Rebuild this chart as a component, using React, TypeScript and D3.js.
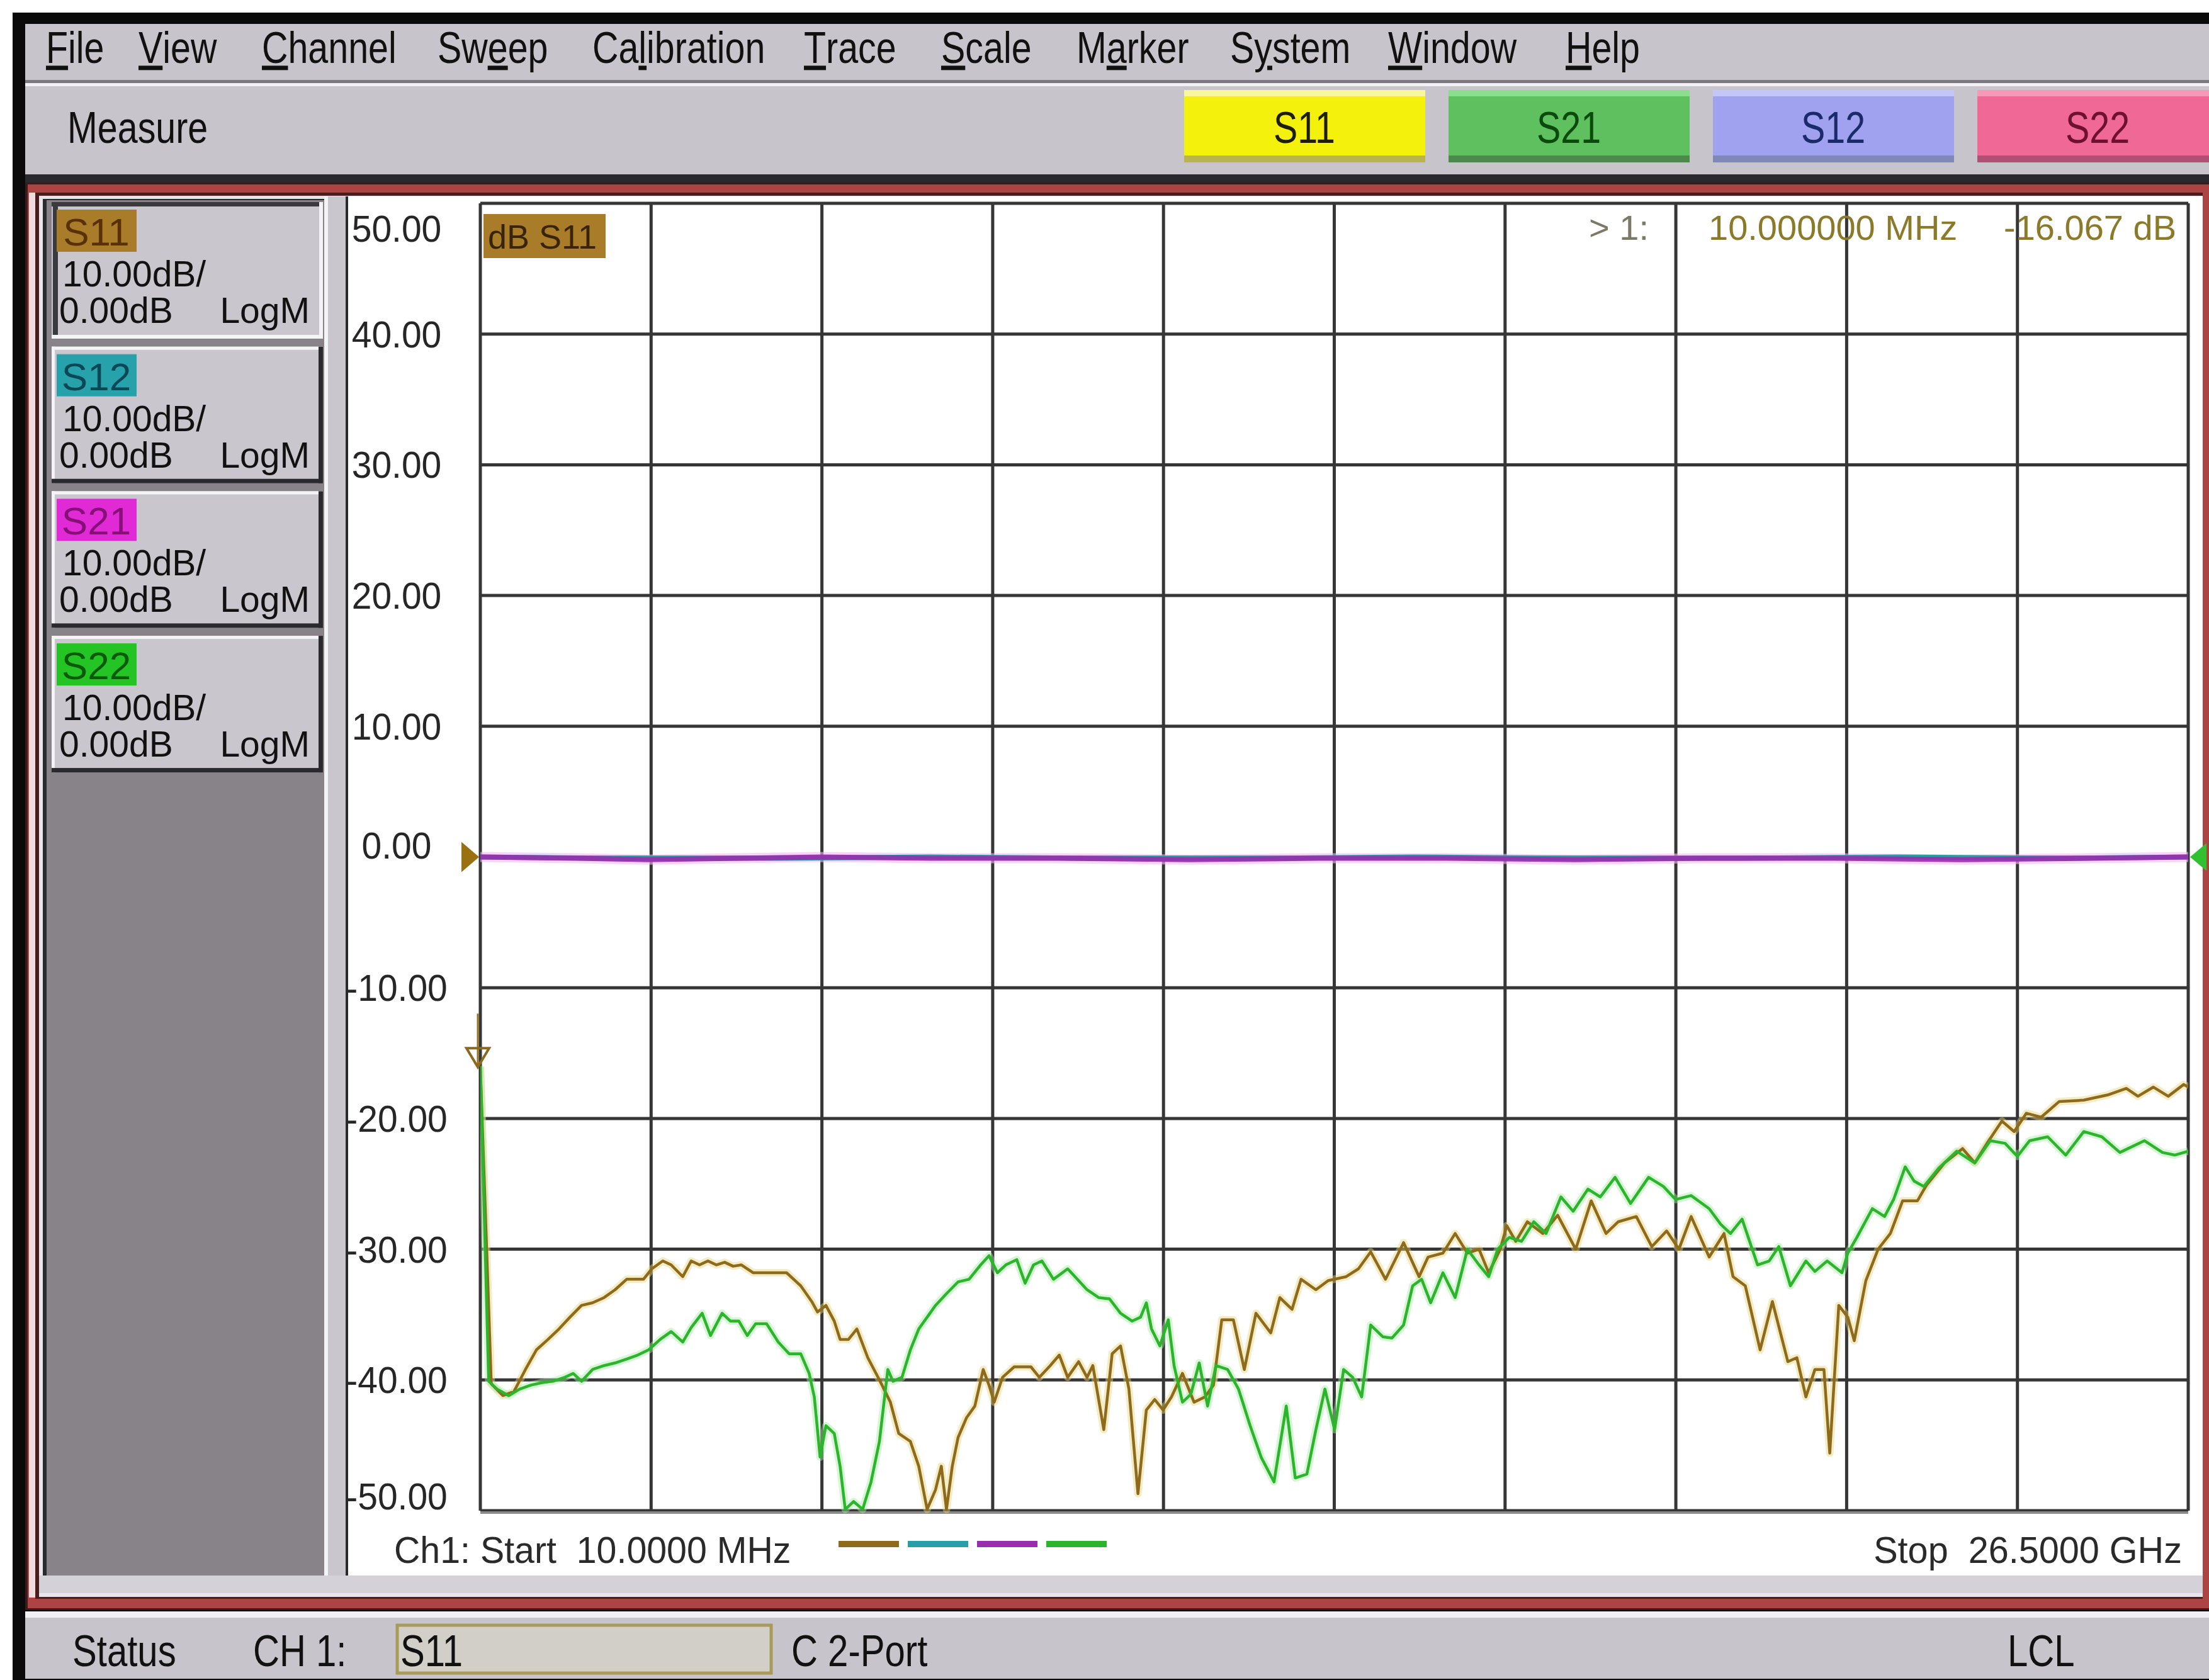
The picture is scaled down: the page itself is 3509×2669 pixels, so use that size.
import React from 'react';
import * as d3 from 'd3';

// ---------- data ----------
const FREQ_START_GHZ = 0.01;
const FREQ_STOP_GHZ = 26.5;
const Y_MIN = -50;
const Y_MAX = 50;
const Y_TICKS = [50, 40, 30, 20, 10, 0, -10, -20, -30, -40, -50];

const MENU_ITEMS = ['File', 'View', 'Channel', 'Sweep', 'Calibration', 'Trace', 'Scale', 'Marker', 'System', 'Window', 'Help'];
const MENU_UNDERLINE = [0, 0, 0, 2, 2, 0, 0, 1, 1, 0, 0];
const MEAS_BUTTONS = ['S11', 'S21', 'S12', 'S22'];
const TRACE_NAMES = ['S11', 'S12', 'S21', 'S22'];
const TRACE_SCALE = '10.00dB/';
const TRACE_REF = '0.00dB';
const TRACE_FORMAT = 'LogM';
const MARKER_TEXT = ['> 1:', '10.000000 MHz', '-16.067 dB'];

// [frequency GHz, dB]
const S11: [number, number][] = [
  [0.01, -16.07], [0.18, -40.3], [0.36, -41.2], [0.53, -40.9], [0.71, -39.2], [0.88, -37.7], [1.06, -36.9], [1.23, -36.1],
  [1.40, -35.2], [1.58, -34.3], [1.75, -34.1], [1.93, -33.7], [2.10, -33.1], [2.28, -32.3], [2.54, -32.3], [2.67, -31.5],
  [2.84, -30.9], [2.97, -31.2], [3.15, -32.1], [3.28, -30.9], [3.41, -31.2], [3.54, -30.9], [3.67, -31.2], [3.80, -31.0],
  [3.93, -31.3], [4.06, -31.2], [4.24, -31.8], [4.54, -31.8], [4.76, -31.8], [4.98, -32.8], [5.15, -34.0], [5.24, -34.8],
  [5.37, -34.3], [5.50, -35.5], [5.59, -36.9], [5.72, -36.9], [5.85, -36.1], [6.02, -38.3], [6.20, -40.0], [6.37, -41.7],
  [6.50, -44.1], [6.68, -44.7], [6.81, -46.6], [6.94, -49.9], [7.07, -48.4], [7.16, -46.6], [7.24, -49.9], [7.33, -46.6],
  [7.42, -44.4], [7.55, -42.9], [7.68, -42.0], [7.81, -39.2], [7.90, -40.4], [7.98, -41.7], [8.11, -39.8], [8.29, -39.0],
  [8.55, -39.0], [8.68, -39.8], [8.85, -38.9], [8.99, -38.1], [9.12, -39.8], [9.29, -38.6], [9.42, -39.8], [9.51, -38.9],
  [9.68, -43.8], [9.81, -38.0], [9.94, -37.4], [10.07, -40.7], [10.21, -48.7], [10.34, -42.3], [10.47, -41.5], [10.60, -42.3],
  [10.73, -41.3], [10.90, -39.5], [11.08, -41.7], [11.25, -41.3], [11.38, -40.4], [11.51, -35.4], [11.69, -35.4], [11.86, -39.2],
  [12.04, -34.9], [12.27, -36.4], [12.41, -33.7], [12.60, -34.6], [12.74, -32.3], [12.97, -33.1], [13.16, -32.4], [13.44, -32.1],
  [13.63, -31.5], [13.82, -30.2], [14.05, -32.3], [14.33, -29.5], [14.57, -32.1], [14.71, -30.6], [14.94, -30.3], [15.13, -28.8],
  [15.32, -30.3], [15.50, -30.0], [15.65, -31.8], [15.83, -30.0], [15.93, -28.2], [16.07, -29.4], [16.25, -27.9], [16.49, -28.8],
  [16.72, -27.4], [17.00, -30.0], [17.24, -26.3], [17.47, -28.8], [17.66, -27.9], [17.94, -27.5], [18.18, -29.8], [18.41, -28.6],
  [18.60, -30.0], [18.79, -27.5], [19.07, -30.6], [19.30, -28.8], [19.44, -32.1], [19.63, -32.8], [19.86, -37.7], [20.05, -34.0],
  [20.29, -38.6], [20.43, -38.3], [20.57, -41.3], [20.71, -39.2], [20.85, -39.2], [20.94, -45.6], [21.08, -34.3], [21.22, -35.2],
  [21.32, -37.0], [21.50, -32.4], [21.69, -30.0], [21.88, -28.8], [22.07, -26.3], [22.30, -26.3], [22.44, -25.1], [22.72, -23.4],
  [23.00, -22.3], [23.19, -23.4], [23.38, -21.9], [23.61, -20.2], [23.80, -21.0], [23.99, -19.6], [24.22, -19.9], [24.50, -18.7],
  [24.88, -18.6], [25.25, -18.2], [25.54, -17.7], [25.72, -18.3], [25.96, -17.6], [26.19, -18.3], [26.43, -17.4], [26.50, -17.6],
];

const S22: [number, number][] = [
  [0.01, -16.0], [0.14, -40.1], [0.27, -40.7], [0.45, -41.2], [0.62, -40.7], [0.79, -40.4], [0.97, -40.2], [1.14, -40.1],
  [1.32, -39.8], [1.45, -39.5], [1.58, -40.1], [1.75, -39.2], [1.93, -38.9], [2.10, -38.7], [2.28, -38.4], [2.45, -38.1],
  [2.62, -37.7], [2.80, -36.9], [2.97, -36.3], [3.15, -37.1], [3.28, -36.0], [3.45, -34.9], [3.58, -36.6], [3.76, -34.9],
  [3.89, -35.5], [4.02, -35.5], [4.15, -36.6], [4.28, -35.7], [4.45, -35.7], [4.63, -37.1], [4.80, -38.0], [4.98, -38.0],
  [5.11, -39.5], [5.19, -41.3], [5.28, -45.9], [5.37, -43.5], [5.50, -44.1], [5.59, -46.6], [5.67, -49.9], [5.80, -49.3],
  [5.94, -49.9], [6.07, -47.8], [6.20, -44.7], [6.33, -39.2], [6.41, -40.1], [6.55, -39.8], [6.68, -37.7], [6.81, -36.1],
  [6.94, -35.2], [7.07, -34.3], [7.24, -33.4], [7.42, -32.5], [7.59, -32.3], [7.77, -31.2], [7.90, -30.5], [8.03, -31.8],
  [8.16, -31.2], [8.33, -30.8], [8.46, -32.6], [8.59, -31.2], [8.72, -30.9], [8.90, -32.3], [9.12, -31.5], [9.29, -32.4],
  [9.42, -33.1], [9.60, -33.7], [9.77, -33.8], [9.94, -34.9], [10.12, -35.5], [10.25, -35.2], [10.34, -34.1], [10.42, -36.1],
  [10.55, -37.4], [10.68, -35.4], [10.77, -38.9], [10.90, -41.7], [11.03, -41.1], [11.16, -38.7], [11.29, -42.0], [11.42, -38.9],
  [11.60, -39.2], [11.77, -40.7], [11.95, -43.5], [12.12, -45.9], [12.32, -47.8], [12.51, -42.0], [12.65, -47.5], [12.83, -47.2],
  [12.97, -43.8], [13.11, -40.7], [13.26, -43.8], [13.40, -39.2], [13.54, -39.8], [13.68, -41.3], [13.82, -35.8], [14.01, -36.7],
  [14.15, -36.8], [14.33, -35.8], [14.47, -32.8], [14.61, -32.3], [14.75, -34.1], [14.94, -31.8], [15.13, -33.7], [15.32, -30.0],
  [15.50, -31.2], [15.65, -32.1], [15.79, -30.0], [15.97, -29.1], [16.16, -29.4], [16.35, -27.9], [16.54, -28.8], [16.77, -26.0],
  [16.96, -27.1], [17.19, -25.4], [17.38, -26.0], [17.61, -24.5], [17.85, -26.5], [18.13, -24.5], [18.36, -25.2], [18.55, -26.2],
  [18.79, -25.9], [19.07, -26.9], [19.25, -28.1], [19.40, -28.8], [19.58, -27.7], [19.82, -31.2], [20.00, -30.9], [20.15, -29.8],
  [20.33, -32.8], [20.57, -30.9], [20.71, -31.7], [20.90, -30.9], [21.13, -31.8], [21.22, -30.3], [21.36, -29.1], [21.60, -26.9],
  [21.79, -27.5], [21.93, -26.2], [22.11, -23.7], [22.25, -24.8], [22.40, -25.2], [22.63, -23.8], [22.91, -22.5], [23.19, -23.4],
  [23.43, -21.7], [23.66, -21.9], [23.85, -22.9], [24.04, -21.7], [24.32, -21.4], [24.60, -22.8], [24.88, -21.0], [25.16, -21.4],
  [25.44, -22.6], [25.82, -21.7], [26.10, -22.6], [26.29, -22.8], [26.50, -22.5],
];

const S21: [number, number][] = [
  [0.01, 0.0], [1.5, -0.1], [2.6, -0.2], [4.0, -0.1], [5.3, 0.0], [7.0, -0.1], [9.0, -0.1], [11.0, -0.2],
  [13.0, -0.1], [15.0, -0.1], [17.0, -0.2], [19.0, -0.1], [21.0, -0.1], [23.0, -0.2], [25.0, -0.1], [26.5, 0.0],
];
const S12: [number, number][] = [
  [0.01, 0.0], [2.0, -0.1], [4.5, -0.1], [7.0, 0.0], [9.5, -0.1], [12.0, -0.1], [14.5, 0.0], [17.0, -0.1],
  [19.5, -0.1], [22.0, 0.0], [24.5, -0.1], [26.5, 0.0],
];

// ---------- layout / style ----------
const W = 3509;
const H = 2669;
const PLOT = { left: 763, right: 3476, top: 323, bottom: 2400 };
const FONT = "'Liberation Sans', Arial, Helvetica, sans-serif";
const MENU_X = [73, 220, 416, 695, 941, 1277, 1495, 1710, 1954, 2205, 2487];
const GRAY = '#c7c5cb';
const PANEL_GRAY = '#878389';

const TRACE_COLORS: Record<string, { bg: string; fg: string; line: string; halo: string }> = {
  S11: { bg: '#a87c28', fg: '#5a3008', line: '#8e6a1c', halo: '#e6d47c' },
  S12: { bg: '#28a2aa', fg: '#0a4858', line: '#2a9ea6', halo: '#a8e4e8' },
  S21: { bg: '#e02ad6', fg: '#861078', line: '#9a2cae', halo: '#f4b8f4' },
  S22: { bg: '#24c424', fg: '#0a5a0a', line: '#2cb42c', halo: '#a4eca4' },
};
const BUTTON_STYLE: Record<string, { fill: string; stripe: string; top: string; text: string }> = {
  S11: { fill: '#f4f20c', stripe: '#bab44e', top: '#f8f89a', text: '#1e1e00' },
  S21: { fill: '#5ec05e', stripe: '#4a8a4a', top: '#8ae08a', text: '#0a4a0a' },
  S12: { fill: '#a0a2f0', stripe: '#8088b8', top: '#c4c6fa', text: '#1a2a6a' },
  S22: { fill: '#f06896', stripe: '#b05072', top: '#f898b8', text: '#6e1030' },
};

const T = ({ x, y, size, sx = 1, anchor = 'start', fill = '#111', children }: any) => (
  <text
    transform={`translate(${x},${y}) scale(${sx},1)`}
    fontSize={size}
    textAnchor={anchor}
    fill={fill}
    fontFamily={FONT}
    style={{ whiteSpace: 'pre' }}
  >
    {children}
  </text>
);

export default function App() {
  const x = d3.scaleLinear().domain([FREQ_START_GHZ, FREQ_STOP_GHZ]).range([PLOT.left, PLOT.right]);
  const y = d3.scaleLinear().domain([Y_MIN, Y_MAX]).range([PLOT.bottom, PLOT.top]);
  const line = d3.line<[number, number]>().x((d) => x(d[0])).y((d) => y(d[1]));
  const vGrid = d3.range(11).map((i) => FREQ_START_GHZ + (i * (FREQ_STOP_GHZ - FREQ_START_GHZ)) / 10);

  const y0 = y(0);
  const m1x = x(S11[0][0]);
  const m1y = y(S11[0][1]);

  const labelY = (v: number) => {
    let c = y(v);
    if (v === Y_MAX) c += 40;
    else if (v === Y_MIN) c -= 23;
    else if (v === 0) c -= 19;
    return c + 21;
  };

  const boxTop = (i: number) => 321 + i * 229.7;

  return (
    <div style={{ position: 'absolute', left: 0, top: 0 }}>
      <svg width={W} height={H} viewBox={`0 0 ${W} ${H}`} style={{ display: 'block' }}>
        <defs>
          <clipPath id="plotClip">
            <rect x={PLOT.left} y={PLOT.top - 4} width={PLOT.right - PLOT.left} height={PLOT.bottom - PLOT.top + 8} />
          </clipPath>
        </defs>
        <rect x={0} y={0} width={W} height={H} fill="#ffffff" />
        {/* window frame */}
        <rect x={20} y={20} width={W - 20} height={H - 20} fill="#0a0a0a" />
        {/* menu bar */}
        <rect x={40} y={38} width={W - 40} height={89} fill={GRAY} />
        <rect x={40} y={127} width={W - 40} height={5} fill="#7c7a80" />
        <rect x={40} y={132} width={W - 40} height={5} fill="#f2f0f4" />
        {MENU_ITEMS.map((m, i) => {
          const u = MENU_UNDERLINE[i];
          return (
            <text
              key={m}
              transform={`translate(${MENU_X[i]},100) scale(0.82,1)`}
              fontSize={70}
              fontFamily={FONT}
              fill="#111"
            >
              {m.slice(0, u)}
              <tspan textDecoration="underline">{m[u]}</tspan>
              {m.slice(u + 1)}
            </text>
          );
        })}
        {/* toolbar */}
        <rect x={40} y={137} width={W - 40} height={140} fill={GRAY} />
        <T x={107} y={227} size={70} sx={0.82}>Measure</T>
        {MEAS_BUTTONS.map((b, i) => {
          const bx = 1881 + i * 420;
          const st = BUTTON_STYLE[b];
          return (
            <g key={b}>
              <rect x={bx} y={143} width={383} height={115} fill={st.fill} />
              <rect x={bx} y={143} width={383} height={10} fill={st.top} />
              <rect x={bx} y={247} width={383} height={11} fill={st.stripe} />
              <T x={bx + 191} y={227} size={70} sx={0.82} anchor="middle" fill={st.text}>{b}</T>
            </g>
          );
        })}
        <rect x={40} y={277} width={W - 40} height={13} fill="#2a2a2e" />

        {/* channel window red frame */}
        <rect x={40} y={290} width={W - 40} height={2268} fill="#3a1a1a" />
        <rect x={44} y={293} width={W - 44} height={2262} fill="#ac4444" />
        <rect x={46} y={306} width={10} height={2232} fill="#f0dcdc" />
        <rect x={56} y={306} width={W - 56} height={2234} fill="#4a1c1c" />
        <rect x={62} y={311} width={W - 70} height={2226} fill="#e8e6ea" />
        {/* left panel */}
        <rect x={68} y={316} width={447} height={2187} fill="#2a2a2e" />
        <rect x={74} y={318} width={441} height={2185} fill={PANEL_GRAY} />
        <rect x={515} y={312} width={37} height={2191} fill="#c9c7cd" />
        <rect x={515} y={312} width={6} height={2191} fill="#f4f4f6" />
        <rect x={549} y={312} width={4} height={2191} fill="#2a2a2e" />
        {/* white graph area */}
        <rect x={553} y={312} width={W - 553 - 10} height={2191} fill="#ffffff" />
        <rect x={62} y={2503} width={W - 72} height={28} fill="#d4d2d8" />
        <rect x={W - 10} y={293} width={10} height={2262} fill="#ac4444" />

        {/* trace info boxes */}
        {TRACE_NAMES.map((name, i) => {
          const top = boxTop(i);
          const c = TRACE_COLORS[name];
          const selected = i === 0;
          return (
            <g key={name}>
              <rect x={82} y={top} width={431} height={217} fill="#c9c7cd" />
              {selected ? (
                <>
                  <rect x={82} y={top} width={431} height={7} fill="#3a3a3e" />
                  <rect x={84} y={top} width={8} height={211} fill="#3a3a3e" />
                  <rect x={82} y={top + 211} width={431} height={6} fill="#f4f4f6" />
                  <rect x={507} y={top} width={6} height={217} fill="#f4f4f6" />
                </>
              ) : (
                <>
                  <rect x={82} y={top} width={431} height={5} fill="#f4f4f6" />
                  <rect x={82} y={top} width={5} height={217} fill="#f4f4f6" />
                  <rect x={82} y={top + 210} width={431} height={7} fill="#2a2a2e" />
                  <rect x={506} y={top} width={7} height={217} fill="#2a2a2e" />
                </>
              )}
              <rect x={90} y={top + 12} width={127} height={67} fill={c.bg} />
              <T x={153} y={top + 69} size={62} anchor="middle" fill={c.fg}>{name}</T>
              <T x={99} y={top + 134} size={57}>{TRACE_SCALE}</T>
              <T x={94} y={top + 192} size={57}>{TRACE_REF}</T>
              <T x={492} y={top + 192} size={57} anchor="end">{TRACE_FORMAT}</T>
            </g>
          );
        })}

        {/* grid */}
        {Y_TICKS.map((v) => (
          <line key={'h' + v} x1={PLOT.left} x2={PLOT.right} y1={y(v)} y2={y(v)} stroke="#363636" strokeWidth={5} />
        ))}
        {vGrid.map((f, i) => (
          <line key={'v' + i} x1={x(f)} x2={x(f)} y1={PLOT.top} y2={PLOT.bottom} stroke="#363636" strokeWidth={5} />
        ))}
        <line x1={PLOT.left} x2={PLOT.right} y1={PLOT.bottom + 3} y2={PLOT.bottom + 3} stroke="#8a8a8a" strokeWidth={4} />

        {/* y labels */}
        {Y_TICKS.map((v) => (
          <T key={'l' + v} x={630} y={labelY(v)} size={60} sx={0.95} anchor="middle" fill="#262626">
            {v.toFixed(2)}
          </T>
        ))}

        {/* traces */}
        <g clipPath="url(#plotClip)" fill="none" strokeLinejoin="round">
          <path d={line(S21) || ''} stroke={TRACE_COLORS.S21.halo} strokeWidth={16} opacity={0.6} />
          <path d={line(S12) || ''} stroke={TRACE_COLORS.S12.line} strokeWidth={8} />
          <path d={line(S21) || ''} stroke={TRACE_COLORS.S21.line} strokeWidth={8} opacity={0.9} />
          <path d={line(S11) || ''} stroke={TRACE_COLORS.S11.halo} strokeWidth={12} opacity={0.45} />
          <path d={line(S22) || ''} stroke={TRACE_COLORS.S22.halo} strokeWidth={12} opacity={0.45} />
          <path d={line(S11) || ''} stroke={TRACE_COLORS.S11.line} strokeWidth={4.5} />
          <path d={line(S22) || ''} stroke={TRACE_COLORS.S22.line} strokeWidth={4.5} />
        </g>

        {/* reference level arrows */}
        <path d={`M${PLOT.left - 30},${y0 - 24} L${PLOT.left - 2},${y0} L${PLOT.left - 30},${y0 + 24} Z`} fill="#9a7010" />
        <path d={`M${W - 4},${y0 - 22} L${PLOT.right + 3},${y0} L${W - 4},${y0 + 22} Z`} fill="#30c030" />

        {/* marker 1 */}
        <line x1={m1x - 4} x2={m1x - 4} y1={m1y - 85} y2={m1y} stroke="#9a7424" strokeWidth={3} />
        <path
          d={`M${m1x - 22},${m1y - 30} L${m1x + 14},${m1y - 30} L${m1x - 4},${m1y} Z`}
          fill="none"
          stroke="#8a6a1e"
          strokeWidth={4}
        />

        {/* active trace label */}
        <rect x={768} y={340} width={194} height={70} fill="#a87c28" />
        <T x={775} y={395} size={54} fill="#3a2408">dB S11</T>

        {/* marker readout */}
        <T x={2524} y={381} size={56} fill="#7c7a66">{MARKER_TEXT[0]}</T>
        <T x={2714} y={381} size={56} fill="#8a7a2a">{MARKER_TEXT[1]}</T>
        <T x={3457} y={381} size={56} anchor="end" fill="#8a7a2a">{MARKER_TEXT[2]}</T>

        {/* bottom annotations */}
        <T x={626} y={2483} size={60} sx={0.955} fill="#2a2a2a">{'Ch1: Start  10.0000 MHz'}</T>
        <T x={3466} y={2483} size={60} sx={0.96} anchor="end" fill="#2a2a2a">{'Stop  26.5000 GHz'}</T>
        {TRACE_NAMES.map((name, i) => (
          <rect key={'lg' + name} x={1332 + i * 110} y={2448} width={96} height={10} fill={TRACE_COLORS[name].line} />
        ))}

        {/* status bar */}
        <rect x={40} y={2560} width={W - 40} height={10} fill="#f2f0f4" />
        <rect x={40} y={2570} width={W - 40} height={97} fill={GRAY} />
        <T x={115} y={2647} size={70} sx={0.83}>Status</T>
        <T x={402} y={2647} size={70} sx={0.83}>CH 1:</T>
        <rect x={631} y={2582} width={594} height={76} fill="#d2cec8" stroke="#a89a58" strokeWidth={5} />
        <T x={636} y={2647} size={70} sx={0.83}>S11</T>
        <T x={1257} y={2647} size={70} sx={0.83}>C 2-Port</T>
        <T x={3189} y={2647} size={70} sx={0.83}>LCL</T>
      </svg>
    </div>
  );
}
